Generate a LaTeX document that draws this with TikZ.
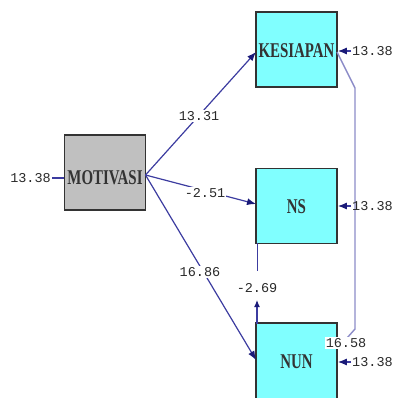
\documentclass[tikz,border=0pt]{standalone}
\usepackage{fontspec}
\setmainfont{Liberation Serif}
\newfontfamily\numfont{Liberation Mono}
\usetikzlibrary{arrows.meta}
\definecolor{pathc}{HTML}{3C3CA0}
\definecolor{headc}{HTML}{1A1A78}
\definecolor{covc}{HTML}{8C8CC8}
\definecolor{boxc}{HTML}{80FFFF}
\definecolor{greyc}{HTML}{C0C0C0}
\definecolor{txtc}{HTML}{2A2A2A}
\tikzset{
  var/.style={draw=black!80, line width=1.6pt, minimum width=81pt, minimum height=75pt, inner sep=0pt},
  boxlabel/.style={font=\fontsize{21}{21}\selectfont\bfseries, text=black!80},
  num/.style={font=\numfont\fontsize{13.5}{13.5}\selectfont, text=txtc, inner sep=1pt},
  numbg/.style={num, fill=white},
  pathline/.style={draw=pathc, line width=1.2pt, -{Latex[length=9pt,width=7pt,fill=headc,color=headc]}},
  plainline/.style={draw=pathc, line width=1.2pt},
  covline/.style={draw=covc, line width=1.4pt},
}
\begin{document}
\begin{tikzpicture}[x=1pt,y=-1pt]
\useasboundingbox (0,0) rectangle (395,398);
% boxes
\node[var, fill=greyc] (mot) at (105,172.5) {};
\node[boxlabel] (motl) at (105,178) {\scalebox{0.71}[1]{MOTIVASI}};
\node[var, fill=boxc] (kes) at (296.5,49.5) {};
\node[boxlabel] (kesl) at (296.5,51) {\scalebox{0.71}[1]{KESIAPAN}};
\node[var, fill=boxc] (ns) at (296.5,206) {};
\node[boxlabel] (nsl) at (296.5,207) {\scalebox{0.71}[1]{NS}};
\node[var, fill=boxc, minimum height=90pt] (nun) at (296.5,368) {};
\node[boxlabel] (nunl) at (296.5,362) {\scalebox{0.71}[1]{NUN}};
% anchor coordinates
\coordinate (mo) at (145.5,175);
\coordinate (kin) at (256,52);
\coordinate (nsin) at (256,204);
\coordinate (nunin) at (256,360);
% structural paths
\draw[pathline] (mo) -- (kin);
\draw[pathline] (mo) -- (nsin);
\draw[pathline] (mo) -- (nunin);
\node[numbg] (l1) at (199,116) {13.31};
\node[numbg] (l2) at (205,193) {-2.51};
\node[numbg] (l3) at (200,272) {16.86};
% NS - NUN
\coordinate (nsb) at (257,243);
\coordinate (nsm) at (257,271);
\coordinate (nunt) at (257,324);
\coordinate (nunm) at (257,300);
\draw[draw=pathc, line width=0.8pt] (nsb) -- (nsm);
\draw[draw=pathc, line width=1.2pt, -{Latex[length=7pt,width=6pt,fill=headc,color=headc]}] (nunt) -- (nunm);
\node[num] (l4) at (257,288) {-2.69};
% covariance
\coordinate (c1) at (337,52);
\coordinate (c2) at (355,88);
\coordinate (c3) at (355,329);
\coordinate (c4) at (339,347);
\draw[covline] (c1) -- (c2) -- (c3) -- (c4);
\node[numbg] (l5) at (346,343) {16.58};
% error terms
\node[num, anchor=east] (e0) at (52,178) {13.38};
\draw[plainline] (e0.east) -- (mot.west |- e0.east);
\node[num, anchor=west] (e1) at (351,51) {13.38};
\draw[pathline] (e1.west) -- (kes.east |- e1.west);
\node[num, anchor=west] (e2) at (351,206) {13.38};
\draw[pathline] (e2.west) -- (ns.east |- e2.west);
\node[num, anchor=west] (e3) at (351,362) {13.38};
\draw[pathline] (e3.west) -- (nun.east |- e3.west);
\end{tikzpicture}
\end{document}
